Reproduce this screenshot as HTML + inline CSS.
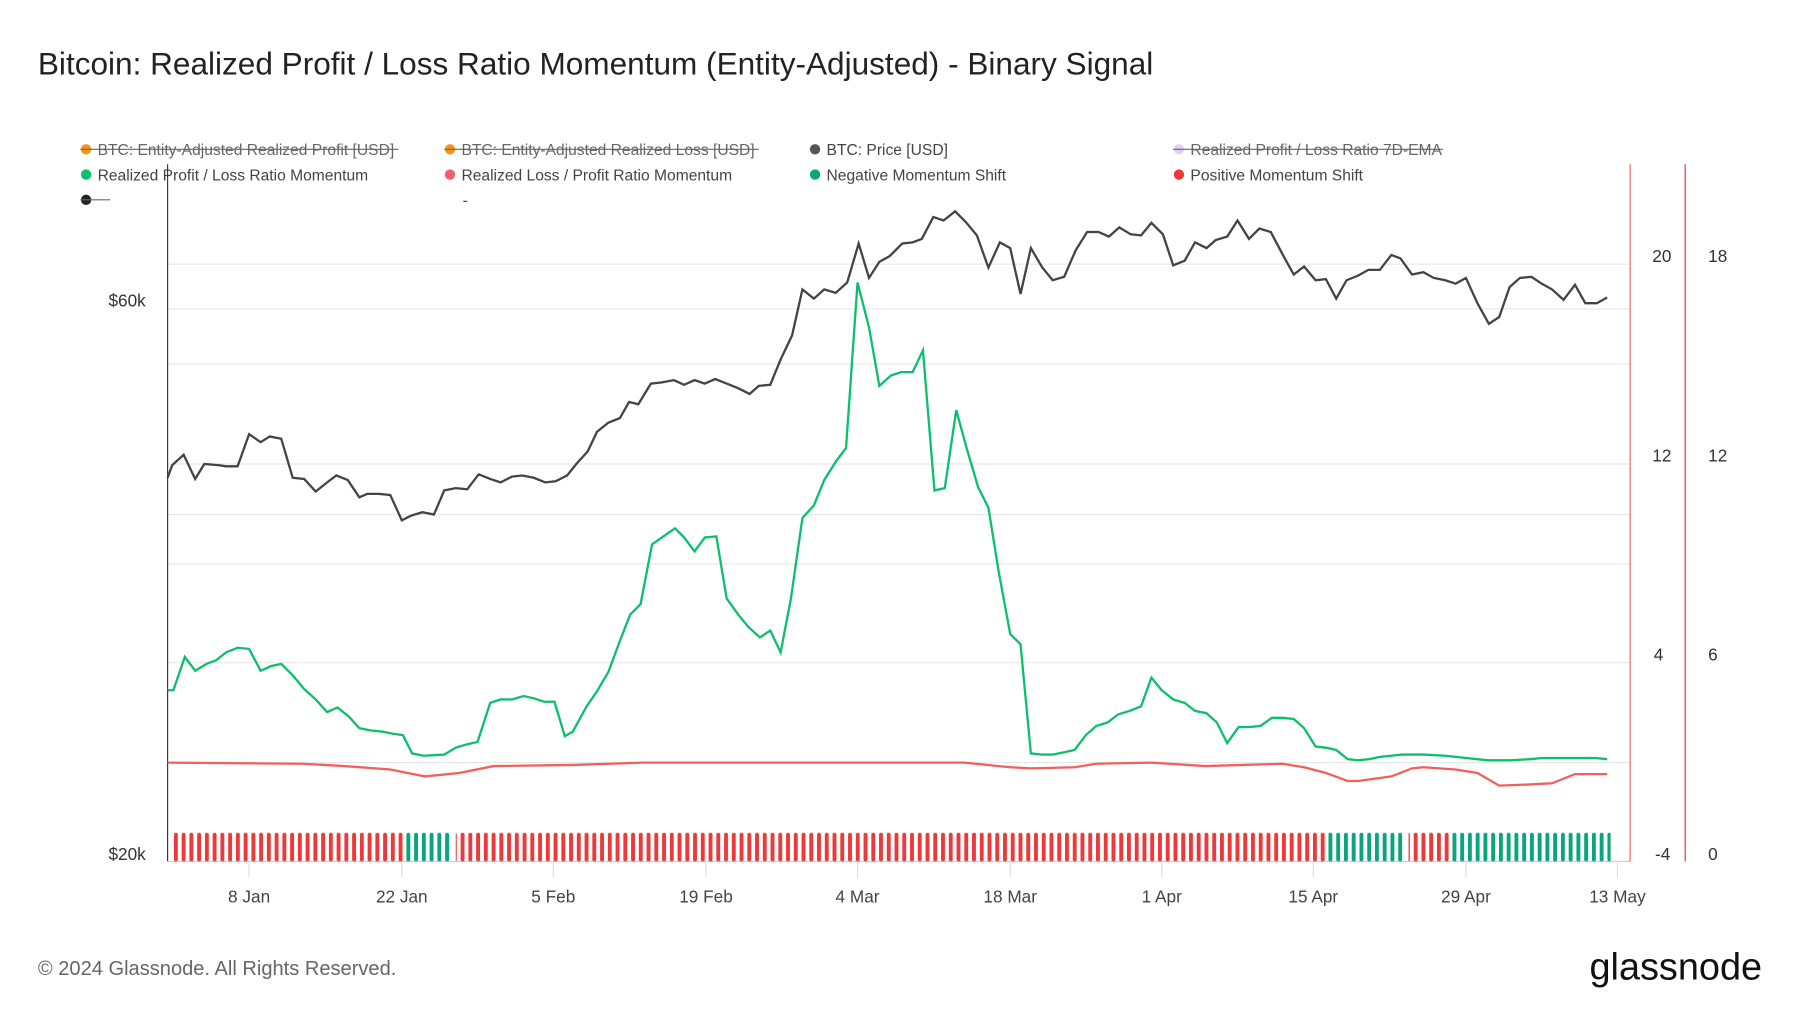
<!DOCTYPE html>
<html><head><meta charset="utf-8"><style>
html,body{margin:0;padding:0;background:#fff;}
svg{display:block;font-family:"Liberation Sans",sans-serif;}
</style></head><body>
<svg width="1800" height="1013" viewBox="0 0 1568 882" preserveAspectRatio="none" xmlns="http://www.w3.org/2000/svg">
<defs>
<pattern id="pr" patternUnits="userSpaceOnUse" x="151.5" y="0" width="6.75" height="900"><rect x="0" y="725" width="3.4" height="25" rx="1.7" fill="#ec3a3a"/></pattern>
<pattern id="pg" patternUnits="userSpaceOnUse" x="151.5" y="0" width="6.75" height="900"><rect x="0" y="725" width="3.4" height="25" rx="1.7" fill="#0aa57c"/></pattern>
</defs>
<rect width="1568" height="882" fill="#fff"/>
<text x="33" y="65" font-size="27.5" fill="#222">Bitcoin: Realized Profit / Loss Ratio Momentum (Entity-Adjusted) - Binary Signal</text>
<g font-size="13.6" fill="#444">
<circle cx="75" cy="130" r="4.5" fill="#f7931a"/><text x="85" y="135" fill="#666">BTC: Entity-Adjusted Realized Profit [USD]</text><line x1="70" y1="130" x2="347" y2="130" stroke="#666"/>
<circle cx="392" cy="130" r="4.5" fill="#f7931a"/><text x="402" y="135" fill="#666">BTC: Entity-Adjusted Realized Loss [USD]</text><line x1="387" y1="130" x2="661" y2="130" stroke="#666"/>
<circle cx="710" cy="130" r="4.5" fill="#555"/><text x="720" y="135">BTC: Price [USD]</text>
<circle cx="1027" cy="130" r="4.5" fill="#e0d0f0"/><text x="1037" y="135" fill="#666">Realized Profit / Loss Ratio 7D-EMA</text><line x1="1022" y1="130" x2="1257" y2="130" stroke="#666"/>
<circle cx="75" cy="152" r="4.5" fill="#0cbf6c"/><text x="85" y="157">Realized Profit / Loss Ratio Momentum</text>
<circle cx="392" cy="152" r="4.5" fill="#f0606a"/><text x="402" y="157">Realized Loss / Profit Ratio Momentum</text>
<circle cx="710" cy="152" r="4.5" fill="#0aa57c"/><text x="720" y="157">Negative Momentum Shift</text>
<circle cx="1027" cy="152" r="4.5" fill="#ec3a3a"/><text x="1037" y="157">Positive Momentum Shift</text>
<circle cx="75" cy="174" r="4.5" fill="#222"/><line x1="70" y1="174" x2="96" y2="174" stroke="#666"/>
<text x="403" y="179">-</text>
</g>
<g stroke="#e8e8e8" stroke-width="1">
<line x1="146" y1="230" x2="1420" y2="230"/><line x1="146" y1="269" x2="1420" y2="269"/><line x1="146" y1="317" x2="1420" y2="317"/><line x1="146" y1="404" x2="1420" y2="404"/><line x1="146" y1="448" x2="1420" y2="448"/><line x1="146" y1="491" x2="1420" y2="491"/><line x1="146" y1="577" x2="1420" y2="577"/><line x1="146" y1="664" x2="1420" y2="664"/>
</g>
<line x1="146" y1="143" x2="146" y2="750" stroke="#333"/>
<line x1="146" y1="750" x2="1420" y2="750" stroke="#ccc"/>
<g stroke="#ddd"><line x1="217" y1="750" x2="217" y2="764"/><line x1="350" y1="750" x2="350" y2="764"/><line x1="482" y1="750" x2="482" y2="764"/><line x1="615" y1="750" x2="615" y2="764"/><line x1="747" y1="750" x2="747" y2="764"/><line x1="880" y1="750" x2="880" y2="764"/><line x1="1012" y1="750" x2="1012" y2="764"/><line x1="1144" y1="750" x2="1144" y2="764"/><line x1="1277" y1="750" x2="1277" y2="764"/><line x1="1409" y1="750" x2="1409" y2="764"/></g>
<line x1="1420" y1="143" x2="1420" y2="750" stroke="#f06060"/>
<line x1="1468" y1="143" x2="1468" y2="750" stroke="#e83030"/>
<rect x="150" y="720" width="202" height="32" fill="url(#pr)"/>
<rect x="352" y="720" width="40" height="32" fill="url(#pg)"/>
<rect x="397" y="720" width="760" height="32" fill="url(#pr)"/>
<rect x="1157" y="720" width="66" height="32" fill="url(#pg)"/>
<rect x="1227" y="720" width="37" height="32" fill="url(#pr)"/>
<rect x="1264" y="720" width="139" height="32" fill="url(#pg)"/>
<polyline fill="none" stroke="#f06060" stroke-width="2" points="146,664 264,665 300,667 340,670 370,676 400,673 430,667 500,666 560,664 840,664 880,668 898,669 936,668 955,665 1003,664 1050,667 1117,665 1136,668 1155,673 1174,680 1183,680 1212,676 1230,669 1240,668 1268,670 1287,673 1306,684 1333,683 1352,682 1362,678 1372,674 1400,674"/>
<polyline fill="none" stroke="#0cbf6c" stroke-width="2" points="146,601 151,601 161,572 170,584 180,578 188,575 197,568 207,564 217,565 227,584 236,580 245,578 255,588 265,600 275,609 285,620 294,616 304,624 313,634 323,636 333,637 343,639 351,640 359,656 369,658 387,657 397,651 407,648 416,646 427,612 436,609 446,609 456,606 465,608 474,611 483,611 492,641 499,637 511,615 520,602 530,585 540,558 549,535 558,526 568,474 578,467 588,460 596,468 605,480 614,468 624,467 633,521 643,535 652,546 662,555 671,549 680,568 689,521 699,451 709,440 718,418 728,402 737,390 747,246 757,285 766,336 776,327 785,324 795,324 804,305 814,427 823,425 833,357 842,390 852,424 861,442 870,498 880,552 889,561 898,656 908,657 917,657 927,655 936,653 946,640 955,632 965,629 974,622 984,619 994,615 1003,590 1012,601 1022,609 1032,612 1041,619 1051,621 1060,629 1069,647 1079,633 1089,633 1098,632 1108,625 1117,625 1127,626 1136,634 1146,650 1155,651 1164,653 1174,661 1183,662 1193,661 1202,659 1212,658 1221,657 1240,657 1259,658 1277,660 1296,662 1315,662 1333,661 1343,660 1371,660 1390,660 1400,661"/>
<polyline fill="none" stroke="#444" stroke-width="2" points="146,416 150,405 160,396 170,417 178,404 190,405 197,406 207,406 217,378 227,385 235,380 245,382 255,416 265,417 275,428 285,420 293,414 303,418 313,433 320,430 330,430 340,431 350,453 358,449 368,446 378,448 387,427 397,425 407,426 417,413 427,417 436,420 446,415 455,414 465,416 475,420 484,419 494,414 502,404 512,393 520,376 530,368 540,364 548,350 556,352 567,334 576,333 587,331 596,335 605,331 614,334 623,330 633,334 643,338 653,343 661,336 671,335 680,313 690,292 699,252 709,260 718,252 728,255 738,246 748,212 757,242 766,228 775,223 786,212 795,211 803,208 813,189 822,192 832,184 841,193 851,205 861,233 871,211 880,216 889,256 898,216 908,233 917,244 927,241 937,218 947,202 957,202 966,206 975,198 985,204 994,205 1003,194 1013,204 1022,231 1032,227 1041,211 1051,216 1059,209 1069,206 1078,192 1088,208 1097,199 1107,202 1117,221 1127,239 1136,232 1146,244 1155,243 1164,260 1173,244 1183,240 1192,235 1202,235 1212,222 1220,225 1230,239 1240,237 1249,242 1259,244 1268,247 1277,242 1287,264 1297,282 1306,276 1315,250 1324,242 1334,241 1343,247 1352,252 1362,261 1372,248 1381,264 1391,264 1400,259"/>
<g font-size="15" fill="#333">
<text x="127" y="267" text-anchor="end">$60k</text><text x="127" y="749" text-anchor="end">$20k</text>
<text x="1456" y="228" text-anchor="end">20</text><text x="1456" y="402" text-anchor="end">12</text><text x="1449" y="575" text-anchor="end">4</text><text x="1455" y="749" text-anchor="end">-4</text>
<text x="1488" y="228">18</text><text x="1488" y="402">12</text><text x="1488" y="575">6</text><text x="1488" y="749">0</text>
</g>
<g font-size="15" fill="#444" text-anchor="middle">
<text x="217" y="786">8 Jan</text><text x="350" y="786">22 Jan</text><text x="482" y="786">5 Feb</text><text x="615" y="786">19 Feb</text><text x="747" y="786">4 Mar</text><text x="880" y="786">18 Mar</text><text x="1012" y="786">1 Apr</text><text x="1144" y="786">15 Apr</text><text x="1277" y="786">29 Apr</text><text x="1409" y="786">13 May</text>
</g>
<text x="33" y="849" font-size="17.5" fill="#666">© 2024 Glassnode. All Rights Reserved.</text>
<text x="1535" y="853" font-size="33" fill="#111" text-anchor="end">glassnode</text>
</svg>
</body></html>
